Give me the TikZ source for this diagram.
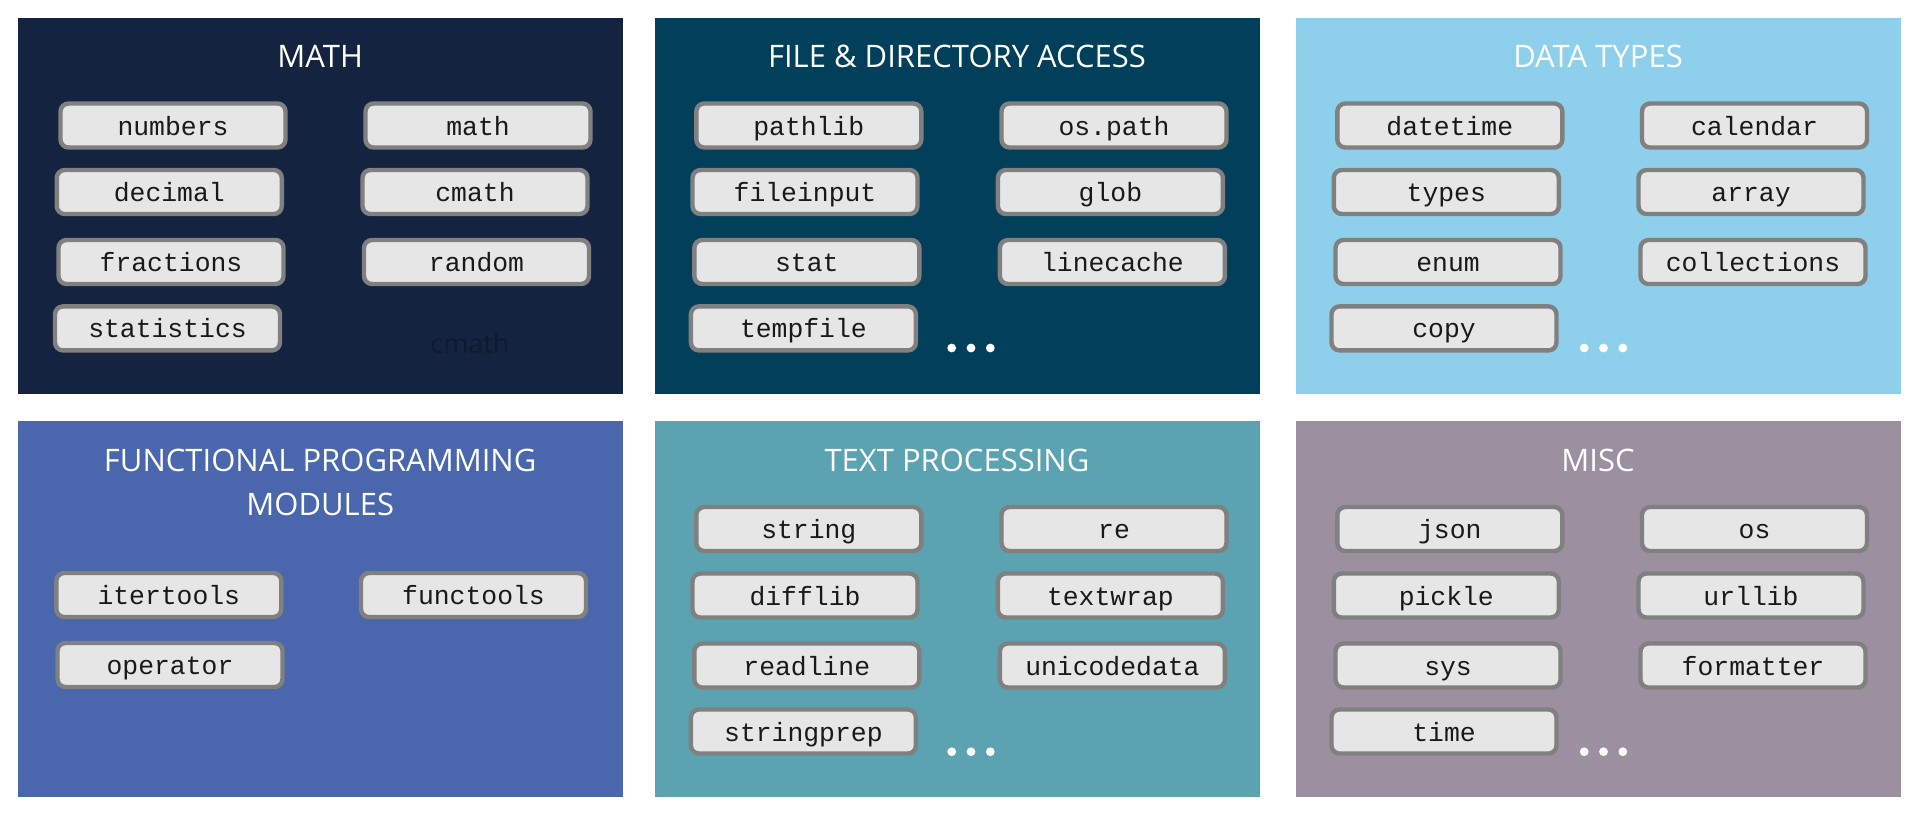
\documentclass[tikz,border=0pt]{standalone}
\usepackage{fontspec}
\setsansfont{Open Sans}
\setmonofont{Liberation Mono}
\definecolor{mathbg}{HTML}{14233F}
\definecolor{filebg}{HTML}{023F5A}
\definecolor{databg}{HTML}{8ED0EC}
\definecolor{funcbg}{HTML}{4A66AC}
\definecolor{textbg}{HTML}{5BA3B0}
\definecolor{miscbg}{HTML}{9B8FA0}
\definecolor{boxfill}{HTML}{E6E6E6}
\definecolor{boxline}{HTML}{808080}

\begin{document}
\begin{tikzpicture}[
  x=0.5pt, y=-0.5pt, % 1 Einheit = 1 Pixel
  panel/.style={fill=#1, inner sep=0pt, anchor=north west,
    minimum width=302.6pt, minimum height=187.8pt},
  titel/.style={text=white, font=\sffamily\fontsize{15.5}{22}\selectfont, align=center},
  modbox/.style={fill=boxfill, draw=boxline, line width=2.2pt, rounded corners=4pt,
    minimum width=112.5pt, minimum height=22pt, inner sep=0pt,
    text height=12pt, text depth=2.5pt,
    text=black!90, font=\ttfamily\fontsize{13.2}{15}\selectfont}
  ]
\useasboundingbox (0,0) rectangle (1915,815);
% Felder
\node[panel=mathbg] (math) at (17.6,17.7) {};
\node[panel=filebg] (file) at (654.4,17.7) {};
\node[panel=databg] (data) at (1295.6,17.7) {};
\node[panel=funcbg] (func) at (17.6,421) {};
\node[panel=textbg] (text) at (654.4,421) {};
\node[panel=miscbg] (misc) at (1295.6,421) {};
% Ueberschriften
\node[titel] (mathtitel) at (320.2,56) {MATH};
\node[titel] (filetitel) at (957,56) {FILE \& DIRECTORY ACCESS};
\node[titel] (datatitel) at (1598,56) {DATA TYPES};
\node[titel] (functitel) at (320.2,482.5) {FUNCTIONAL PROGRAMMING\\MODULES};
\node[titel] (texttitel) at (957,460) {TEXT PROCESSING};
\node[titel] (misctitel) at (1598,460) {MISC};
% Module
\foreach \t/\x/\y [count=\i] in {numbers/173/125.5, math/478/125.5, decimal/169.3/192,
    cmath/475/192, fractions/171/262, random/476.5/262, statistics/167.5/328.4}
  \node[modbox] (ma\i) at (\x,\y) {\t};
\node[text=mathbg!75!black, font=\sffamily\fontsize{13.5}{15}\selectfont] (geist) at (470,343) {cmath};
\foreach \t/\x/\y [count=\i] in {pathlib/808.8/125.5, os.path/1114/125.5, fileinput/805/192,
    glob/1110.4/192, stat/806.8/262, linecache/1112.4/262, tempfile/803.4/328.4}
  \node[modbox] (fi\i) at (\x,\y) {\t};
\foreach \t/\x/\y [count=\i] in {datetime/1449.8/125.5, calendar/1754.5/125.5, types/1446.3/192,
    array/1751/192, enum/1448/262, collections/1753/262, copy/1444/328.4}
  \node[modbox] (da\i) at (\x,\y) {\t};
\foreach \t/\x/\y [count=\i] in {itertools/168.8/595, functools/473.5/595, operator/170/665}
  \node[modbox] (fu\i) at (\x,\y) {\t};
\foreach \t/\x/\y [count=\i] in {string/808.8/529, re/1114/529, difflib/805/595.5,
    textwrap/1110.4/595.5, readline/806.8/665.5, unicodedata/1112.4/665.5, stringprep/803.4/731.5}
  \node[modbox] (te\i) at (\x,\y) {\t};
\foreach \t/\x/\y [count=\i] in {json/1449.8/529, os/1754.5/529, pickle/1446.3/595.5,
    urllib/1751/595.5, sys/1448/665.5, formatter/1753/665.5, time/1444/731.5}
  \node[modbox] (mi\i) at (\x,\y) {\t};
% Punkte
\coordinate (fidots) at (971,348);
\coordinate (dadots) at (1603.5,348);
\coordinate (tedots) at (971,751.7);
\coordinate (midots) at (1603.5,751.7);
\foreach \p in {fidots,dadots,tedots,midots}
  \foreach \d in {-1,0,1}
    \fill[white] ([xshift=\d*9.65pt]\p) circle (2.2pt);
\end{tikzpicture}
\end{document}
